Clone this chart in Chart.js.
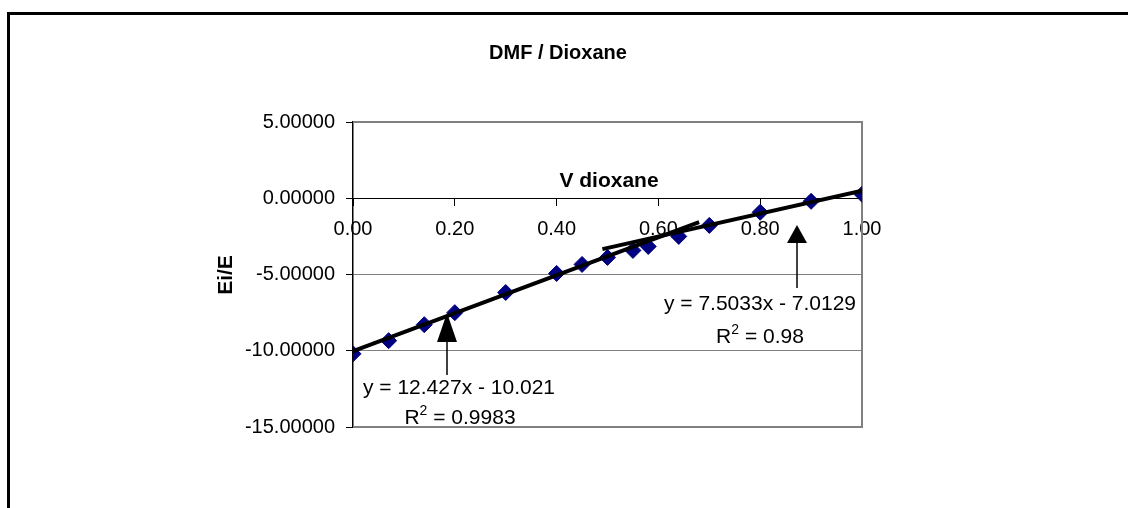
<!DOCTYPE html>
<html><head><meta charset="utf-8">
<script src="https://cdn.jsdelivr.net/npm/chart.js@4/dist/chart.umd.min.js"></script>
<style>html,body{margin:0;padding:0;background:#fff}#wrap{width:1128px;height:508px;position:relative}</style>
</head><body><div id="wrap"><canvas id="c" width="1128" height="508"></canvas></div>
<script>
// ---- data ----
const vDioxane = [0, 0.07, 0.14, 0.20, 0.30, 0.40, 0.45, 0.50, 0.55, 0.58, 0.64, 0.70, 0.80, 0.90, 1.00];
const eiE      = [-10.20, -9.34, -8.29, -7.50, -6.18, -4.93, -4.34, -3.88, -3.42, -3.16, -2.50, -1.78, -0.92, -0.20, 0.26];
const trendSlope     = [12.427, 7.5033];
const trendIntercept = [-10.021, -7.0129];
const trendFrom      = [0, 0.49];
const trendTo        = [0.68, 1.00];
const trendEq        = ['y = 12.427x - 10.021', 'y = 7.5033x - 7.0129'];
const trendR2        = ['0.9983', '0.98'];
const xTicks = [0, 0.2, 0.4, 0.6, 0.8, 1.0];
const xTickLabels = ['0.00', '0.20', '0.40', '0.60', '0.80', '1.00'];
const yTicks = [-15, -10, -5, 0, 5];
const yTickLabels = ['-15.00000', '-10.00000', '-5.00000', '0.00000', '5.00000'];
const chartTitle = 'DMF / Dioxane';
const xTitle = 'V dioxane';
const yTitle = 'Ei/E';

const FONT = '"Liberation Sans", Arial, sans-serif';
const points = vDioxane.map((x, i) => ({x, y: eiE[i]}));
const trendData = trendSlope.map((m, i) => [
  {x: trendFrom[i], y: m * trendFrom[i] + trendIntercept[i]},
  {x: trendTo[i],   y: m * trendTo[i]   + trendIntercept[i]}
]);

function drawArrow(ctx, x, tipY, baseY, endY) {
  ctx.save();
  ctx.fillStyle = '#000'; ctx.strokeStyle = '#000'; ctx.lineWidth = 1.5;
  ctx.beginPath(); ctx.moveTo(x, baseY); ctx.lineTo(x, endY); ctx.stroke();
  ctx.beginPath(); ctx.moveTo(x, tipY); ctx.lineTo(x - 10, baseY); ctx.lineTo(x + 10, baseY); ctx.closePath(); ctx.fill();
  ctx.restore();
}
function drawR2(ctx, cx, cy, val) {
  ctx.save();
  ctx.fillStyle = '#000'; ctx.textBaseline = 'middle'; ctx.textAlign = 'left';
  const big = '21px ' + FONT, small = '14px ' + FONT;
  ctx.font = big; const wR = ctx.measureText('R').width;
  ctx.font = small; const w2 = ctx.measureText('2').width;
  ctx.font = big; const rest = ' = ' + val; const wRest = ctx.measureText(rest).width;
  let x = cx - (wR + w2 + wRest) / 2;
  ctx.fillText('R', x, cy); x += wR;
  ctx.font = small; ctx.fillText('2', x, cy - 7); x += w2;
  ctx.font = big; ctx.fillText(rest, x, cy);
  ctx.restore();
}

const decor = {
  id: 'decor',
  beforeDraw(chart) {
    const ctx = chart.ctx;
    ctx.save();
    ctx.fillStyle = '#fff'; ctx.fillRect(0, 0, chart.width, chart.height);
    ctx.fillStyle = '#000';
    ctx.fillRect(7, 12, chart.width, 3);
    ctx.fillRect(7, 12, 3, chart.height);
    ctx.restore();
  },
  beforeDatasetsDraw(chart) {
    const {ctx, chartArea: a} = chart;
    ctx.save();
    ctx.strokeStyle = '#808080'; ctx.lineWidth = 2;
    ctx.beginPath();
    ctx.moveTo(a.left, a.top); ctx.lineTo(a.right, a.top);
    ctx.lineTo(a.right, a.bottom); ctx.lineTo(a.left, a.bottom);
    ctx.stroke();
    ctx.restore();
  },
  afterDraw(chart) {
    const ctx = chart.ctx;
    ctx.save();
    ctx.fillStyle = '#000';
    ctx.textAlign = 'center'; ctx.textBaseline = 'middle';
    ctx.font = 'bold 20px ' + FONT;
    ctx.fillText(chartTitle, 558, 53);
    ctx.font = 'bold 21px ' + FONT;
    ctx.fillText(xTitle, 609, 181);
    ctx.save();
    ctx.translate(226, 275); ctx.rotate(-Math.PI / 2);
    ctx.font = 'bold 21px ' + FONT;
    ctx.fillText(yTitle, 0, 0);
    ctx.restore();
    // trendline labels
    drawArrow(ctx, 447, 313, 342, 375);
    drawArrow(ctx, 797, 225, 243, 288);
    ctx.font = '21px ' + FONT;
    ctx.fillText(trendEq[0], 459, 388);
    ctx.fillText(trendEq[1], 760, 304);
    ctx.restore();
    drawR2(ctx, 460, 418, trendR2[0]);
    drawR2(ctx, 760, 337, trendR2[1]);
  }
};

new Chart(document.getElementById('c'), {
  type: 'scatter',
  data: {
    datasets: [
      {label: 'trend1', data: trendData[0], showLine: true, borderColor: '#000', borderWidth: 4, pointRadius: 0, order: 0},
      {label: 'trend2', data: trendData[1], showLine: true, borderColor: '#000', borderWidth: 4, pointRadius: 0, order: 0},
      {label: 'Ei/E', data: points, pointStyle: 'rectRot', pointRadius: 8, backgroundColor: '#000080', borderColor: '#000080', borderWidth: 1, order: 1}
    ]
  },
  options: {
    responsive: false, animation: false, devicePixelRatio: 1,
    layout: {padding: {left: 0, top: 122, right: 266, bottom: 81}},
    plugins: {legend: {display: false}, tooltip: {enabled: false}, title: {display: false}},
    scales: {
      x: {
        type: 'linear', min: 0, max: 1, position: {y: 0},
        afterBuildTicks: s => { s.ticks = xTicks.map(v => ({value: v})); },
        ticks: {callback: (v, i) => xTickLabels[i], font: {size: 20, family: FONT}, color: '#000', padding: 12, maxRotation: 0, autoSkip: false},
        grid: {drawOnChartArea: false, drawTicks: true, tickLength: 7, color: '#000'},
        border: {display: true, color: '#000', width: 1}
      },
      y: {
        type: 'linear', min: -15, max: 5, position: 'left',
        afterBuildTicks: s => { s.ticks = yTicks.map(v => ({value: v})); },
        afterFit: s => { s.width = 353; },
        ticks: {callback: (v, i) => yTickLabels[i], font: {size: 20, family: FONT}, color: '#000', padding: 11, autoSkip: false},
        grid: {color: '#808080', lineWidth: 1, drawTicks: true, tickLength: 7, tickColor: '#000'},
        border: {display: true, color: '#000', width: 1.5}
      }
    }
  },
  plugins: [decor]
});
</script>
</body></html>
